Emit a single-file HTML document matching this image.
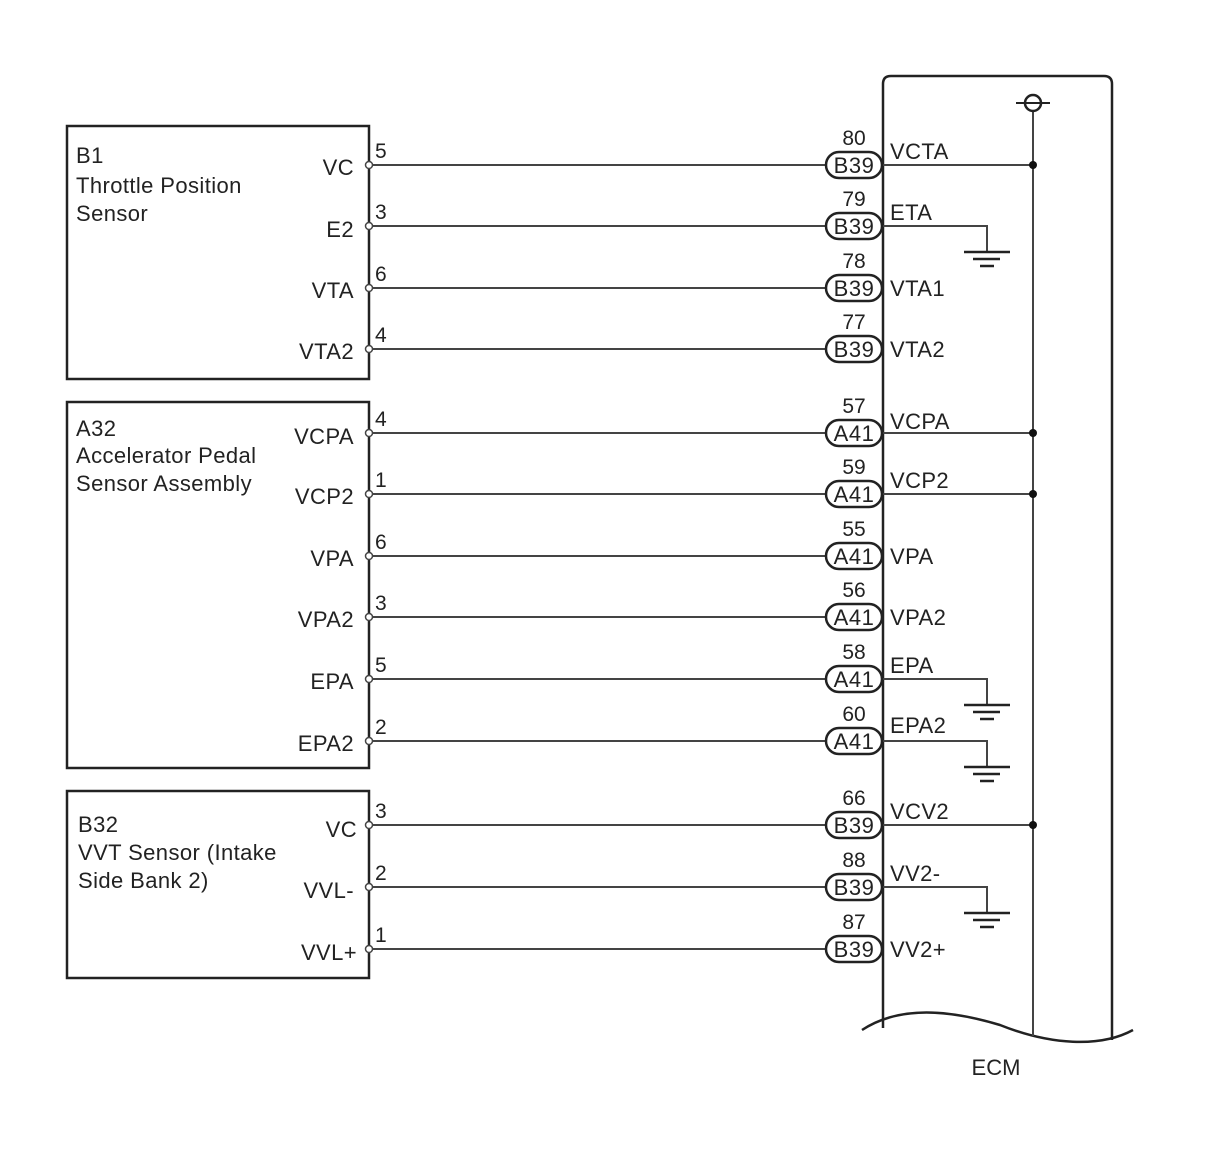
<!DOCTYPE html>
<html><head><meta charset="utf-8"><style>
html,body{margin:0;padding:0;background:#fff}
svg{display:block}
text{font-family:"Liberation Sans",Arial,sans-serif;fill:#222}
</style></head><body>
<svg width="1210" height="1156" viewBox="0 0 1210 1156" xmlns="http://www.w3.org/2000/svg">
<g fill="none" stroke="#222" stroke-width="2.5">
<rect x="67" y="126" width="302" height="253"/>
<rect x="67" y="402" width="302" height="366"/>
<rect x="67" y="791" width="302" height="187"/>
<path d="M883 1028 L883 84 Q883 76 891 76 L1104 76 Q1112 76 1112 84 L1112 1040"/>
<path d="M862 1030 C900 1005 950 1010 1000 1025 C1050 1045 1100 1048 1133 1030"/>
</g>
<g stroke="#444" stroke-width="2">
<line x1="1033" y1="110" x2="1033" y2="1036"/>
</g>
<circle cx="1033" cy="103" r="8" fill="#fff" stroke="#222" stroke-width="2.5"/>
<line x1="1016" y1="103" x2="1050" y2="103" stroke="#222" stroke-width="2"/>
<g stroke="#444" stroke-width="2">
<line x1="369" y1="165" x2="826" y2="165"/><line x1="883" y1="165" x2="1033" y2="165"/>
<line x1="369" y1="226" x2="826" y2="226"/><polyline fill="none" points="883,226 987,226 987,252"/>
<line x1="369" y1="288" x2="826" y2="288"/>
<line x1="369" y1="349" x2="826" y2="349"/>
<line x1="369" y1="433" x2="826" y2="433"/><line x1="883" y1="433" x2="1033" y2="433"/>
<line x1="369" y1="494" x2="826" y2="494"/><line x1="883" y1="494" x2="1033" y2="494"/>
<line x1="369" y1="556" x2="826" y2="556"/>
<line x1="369" y1="617" x2="826" y2="617"/>
<line x1="369" y1="679" x2="826" y2="679"/><polyline fill="none" points="883,679 987,679 987,705"/>
<line x1="369" y1="741" x2="826" y2="741"/><polyline fill="none" points="883,741 987,741 987,767"/>
<line x1="369" y1="825" x2="826" y2="825"/><line x1="883" y1="825" x2="1033" y2="825"/>
<line x1="369" y1="887" x2="826" y2="887"/><polyline fill="none" points="883,887 987,887 987,913"/>
<line x1="369" y1="949" x2="826" y2="949"/>
</g>
<g stroke="#222" stroke-width="2.5">
<line x1="964" y1="252" x2="1010" y2="252"/><line x1="973" y1="259" x2="1000" y2="259"/><line x1="980" y1="266" x2="994" y2="266"/>
<line x1="964" y1="705" x2="1010" y2="705"/><line x1="973" y1="712" x2="1000" y2="712"/><line x1="980" y1="719" x2="994" y2="719"/>
<line x1="964" y1="767" x2="1010" y2="767"/><line x1="973" y1="774" x2="1000" y2="774"/><line x1="980" y1="781" x2="994" y2="781"/>
<line x1="964" y1="913" x2="1010" y2="913"/><line x1="973" y1="920" x2="1000" y2="920"/><line x1="980" y1="927" x2="994" y2="927"/>
</g>
<g fill="#111">
<circle cx="1033" cy="165" r="4"/><circle cx="1033" cy="433" r="4"/><circle cx="1033" cy="494" r="4"/><circle cx="1033" cy="825" r="4"/>
</g>
<g fill="#fff" stroke="#444" stroke-width="1.5">
<circle cx="369" cy="165" r="3.5"/><circle cx="369" cy="226" r="3.5"/><circle cx="369" cy="288" r="3.5"/><circle cx="369" cy="349" r="3.5"/>
<circle cx="369" cy="433" r="3.5"/><circle cx="369" cy="494" r="3.5"/><circle cx="369" cy="556" r="3.5"/><circle cx="369" cy="617" r="3.5"/><circle cx="369" cy="679" r="3.5"/><circle cx="369" cy="741" r="3.5"/>
<circle cx="369" cy="825" r="3.5"/><circle cx="369" cy="887" r="3.5"/><circle cx="369" cy="949" r="3.5"/>
</g>
<g fill="#fff" stroke="#222" stroke-width="2.5">
<rect x="826" y="152" width="56" height="26" rx="13"/><rect x="826" y="213" width="56" height="26" rx="13"/><rect x="826" y="275" width="56" height="26" rx="13"/><rect x="826" y="336" width="56" height="26" rx="13"/>
<rect x="826" y="420" width="56" height="26" rx="13"/><rect x="826" y="481" width="56" height="26" rx="13"/><rect x="826" y="543" width="56" height="26" rx="13"/><rect x="826" y="604" width="56" height="26" rx="13"/><rect x="826" y="666" width="56" height="26" rx="13"/><rect x="826" y="728" width="56" height="26" rx="13"/>
<rect x="826" y="812" width="56" height="26" rx="13"/><rect x="826" y="874" width="56" height="26" rx="13"/><rect x="826" y="936" width="56" height="26" rx="13"/>
</g>
<g font-size="22" text-anchor="middle" letter-spacing="0.5">
<text x="854" y="173">B39</text><text x="854" y="234">B39</text><text x="854" y="296">B39</text><text x="854" y="357">B39</text>
<text x="854" y="441">A41</text><text x="854" y="502">A41</text><text x="854" y="564">A41</text><text x="854" y="625">A41</text><text x="854" y="687">A41</text><text x="854" y="749">A41</text>
<text x="854" y="833">B39</text><text x="854" y="895">B39</text><text x="854" y="957">B39</text>
</g>
<g font-size="21" text-anchor="middle">
<text x="854" y="145">80</text><text x="854" y="206">79</text><text x="854" y="268">78</text><text x="854" y="329">77</text>
<text x="854" y="413">57</text><text x="854" y="474">59</text><text x="854" y="536">55</text><text x="854" y="597">56</text><text x="854" y="659">58</text><text x="854" y="721">60</text>
<text x="854" y="805">66</text><text x="854" y="867">88</text><text x="854" y="929">87</text>
<text x="996" y="1075" font-size="22">ECM</text>
</g>
<g font-size="22" letter-spacing="0.4">
<text x="890" y="159">VCTA</text><text x="890" y="220">ETA</text><text x="890" y="296">VTA1</text><text x="890" y="357">VTA2</text>
<text x="890" y="429">VCPA</text><text x="890" y="488">VCP2</text><text x="890" y="564">VPA</text><text x="890" y="625">VPA2</text><text x="890" y="673">EPA</text><text x="890" y="733">EPA2</text>
<text x="890" y="819">VCV2</text><text x="890" y="881">VV2-</text><text x="890" y="957">VV2+</text>
<text x="76" y="163">B1</text><text x="76" y="193">Throttle Position</text><text x="76" y="221">Sensor</text>
<text x="76" y="436">A32</text><text x="76" y="463">Accelerator Pedal</text><text x="76" y="491">Sensor Assembly</text>
<text x="78" y="832">B32</text><text x="78" y="860">VVT Sensor (Intake</text><text x="78" y="888">Side Bank 2)</text>
</g>
<g font-size="21">
<text x="375" y="158">5</text><text x="375" y="219">3</text><text x="375" y="281">6</text><text x="375" y="342">4</text>
<text x="375" y="426">4</text><text x="375" y="487">1</text><text x="375" y="549">6</text><text x="375" y="610">3</text><text x="375" y="672">5</text><text x="375" y="734">2</text>
<text x="375" y="818">3</text><text x="375" y="880">2</text><text x="375" y="942">1</text>
</g>
<g font-size="22" text-anchor="end" letter-spacing="0.4">
<text x="354" y="175">VC</text><text x="354" y="237">E2</text><text x="354" y="298">VTA</text><text x="354" y="359">VTA2</text>
<text x="354" y="444">VCPA</text><text x="354" y="504">VCP2</text><text x="354" y="566">VPA</text><text x="354" y="627">VPA2</text><text x="354" y="689">EPA</text><text x="354" y="751">EPA2</text>
<text x="357" y="837">VC</text><text x="354" y="898">VVL-</text><text x="357" y="960">VVL+</text>
</g>
</svg>
</body></html>
